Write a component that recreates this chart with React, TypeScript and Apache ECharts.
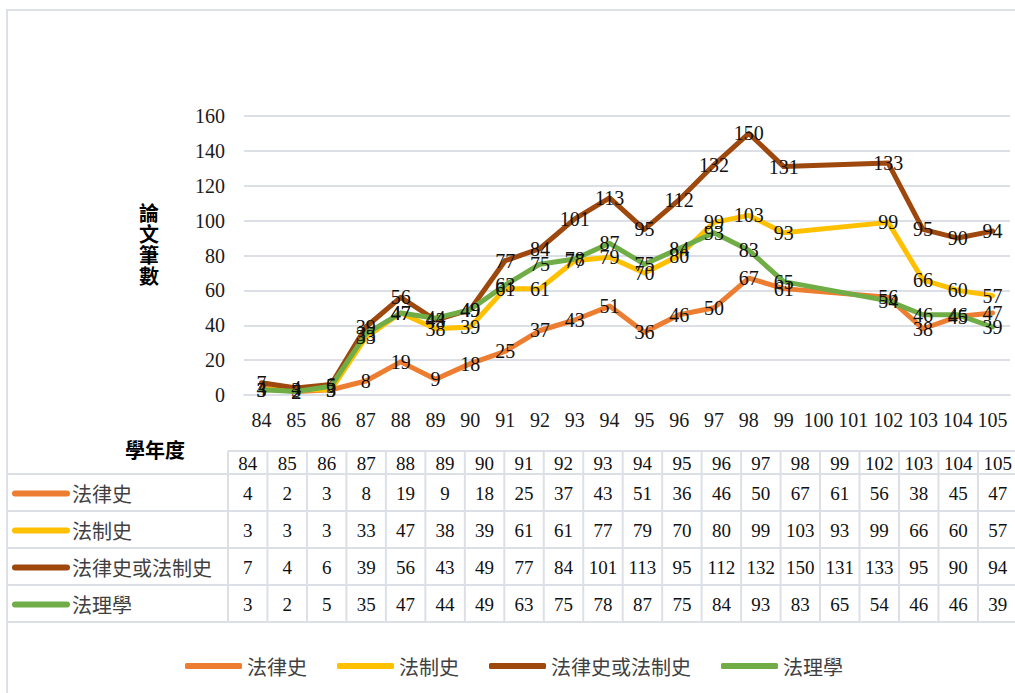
import React, { useEffect, useRef } from "react";
import * as echarts from "echarts";

const categories = ["84","85","86","87","88","89","90","91","92","93","94","95","96","97","98","99","100","101","102","103","104","105"];
const tableYears = ["84","85","86","87","88","89","90","91","92","93","94","95","96","97","98","99","102","103","104","105"];
const seriesNames = ["法律史", "法制史", "法律史或法制史", "法理學"];
const legalHistory = [4,2,3,8,19,9,18,25,37,43,51,36,46,50,67,61,56,38,45,47];
const legalSystemHistory = [3,3,3,33,47,38,39,61,61,77,79,70,80,99,103,93,99,66,60,57];
const eitherHistory = [7,4,6,39,56,43,49,77,84,101,113,95,112,132,150,131,133,95,90,94];
const jurisprudence = [3,2,5,35,47,44,49,63,75,78,87,75,84,93,83,65,54,46,46,39];
const yTicks = { min: 0, max: 160, interval: 20 };
const yAxisTitle = "論文筆數";
const xAxisTitle = "學年度";

const colors = ["#ED7D31", "#FFC000", "#9E480E", "#70AD47"];
const serif = "Liberation Serif";
const cjk = "Noto Sans CJK TC";
const gridColor = "#DCE0E6";

export default function App() {
  const ref = useRef<HTMLDivElement>(null);
  useEffect(() => {
    if (!ref.current) return;
    const chart = echarts.init(ref.current, null, { renderer: "svg" });
    const allValues = [legalHistory, legalSystemHistory, eitherHistory, jurisprudence];

    const toAxis = (vals: number[]) =>
      categories.map((c) => {
        const i = tableYears.indexOf(c);
        return i >= 0 ? vals[i] : null;
      });

    const tableLeft = 228;
    const colW = 39.47;
    const headTop = 451;
    const rowTops = [474, 511, 548, 585, 622];
    const tableRight = 1030;
    const graphics: any[] = [];
    graphics.push({
      type: "rect",
      shape: { x: 7, y: 10, width: 1030, height: 700 },
      style: { fill: "none", stroke: "#DDE1E7", lineWidth: 2 },
      silent: true,
    });
    graphics.push({
      type: "line",
      shape: { x1: tableLeft, y1: headTop, x2: tableRight, y2: headTop },
      style: { stroke: gridColor, lineWidth: 2 },
    });
    rowTops.forEach((y) => {
      graphics.push({
        type: "line",
        shape: { x1: 7, y1: y, x2: tableRight, y2: y },
        style: { stroke: gridColor, lineWidth: 2 },
      });
    });
    for (let i = 0; i <= tableYears.length; i++) {
      const x = tableLeft + i * colW;
      graphics.push({
        type: "line",
        shape: { x1: x, y1: headTop, x2: x, y2: rowTops[rowTops.length - 1] },
        style: { stroke: gridColor, lineWidth: 2 },
      });
    }
    tableYears.forEach((yr, i) => {
      graphics.push({
        type: "text",
        x: tableLeft + (i + 0.5) * colW,
        y: 463,
        style: { text: yr, fontFamily: serif, fontSize: 19, fill: "#111", align: "center", verticalAlign: "middle" },
      });
    });
    allValues.forEach((vals, r) => {
      const cy = (rowTops[r] + rowTops[r + 1]) / 2 + 1;
      graphics.push({
        type: "line",
        shape: { x1: 15, y1: cy, x2: 67, y2: cy },
        style: { stroke: colors[r], lineWidth: 6, lineCap: "round" },
      });
      graphics.push({
        type: "text",
        x: 72,
        y: cy,
        style: { text: seriesNames[r], fontFamily: cjk, fontSize: 20, fill: "#404040", align: "left", verticalAlign: "middle" },
      });
      vals.forEach((v, i) => {
        graphics.push({
          type: "text",
          x: tableLeft + (i + 0.5) * colW,
          y: cy,
          style: { text: String(v), fontFamily: serif, fontSize: 19, fill: "#111", align: "center", verticalAlign: "middle" },
        });
      });
    });
    graphics.push({
      type: "text",
      x: 149,
      y: 244,
      style: {
        text: yAxisTitle.split("").join("\n"),
        fontFamily: cjk,
        fontSize: 20,
        fontWeight: "bold",
        lineHeight: 21,
        fill: "#000",
        align: "center",
        verticalAlign: "middle",
      },
    });
    graphics.push({
      type: "text",
      x: 155,
      y: 449,
      style: { text: xAxisTitle, fontFamily: cjk, fontSize: 20, fontWeight: "bold", fill: "#000", align: "center", verticalAlign: "middle" },
    });

    chart.setOption({
      animation: false,
      color: colors,
      grid: { left: 244, right: 5, top: 116, bottom: 298, containLabel: false },
      legend: {
        left: 180,
        top: 651,
        icon: "roundRect",
        itemWidth: 57,
        itemHeight: 6,
        itemGap: 30,
        textStyle: { fontFamily: cjk, fontSize: 20, color: "#404040" },
        data: seriesNames,
      },
      xAxis: {
        type: "category",
        data: categories,
        boundaryGap: true,
        axisLine: { show: true, lineStyle: { color: gridColor, width: 2 } },
        axisTick: { show: false },
        axisLabel: { fontFamily: serif, fontSize: 20, color: "#1a1a1a", margin: 15, interval: 0 },
      },
      yAxis: {
        type: "value",
        min: yTicks.min,
        max: yTicks.max,
        interval: yTicks.interval,
        axisLine: { show: false },
        axisTick: { show: false },
        splitLine: { lineStyle: { color: gridColor, width: 2 } },
        axisLabel: { fontFamily: serif, fontSize: 20, color: "#1a1a1a", margin: 19 },
      },
      series: allValues.map((vals, i) => ({
        name: seriesNames[i],
        type: "line",
        data: toAxis(vals),
        connectNulls: true,
        symbol: "circle",
        symbolSize: 1,
        showSymbol: true,
        lineStyle: { width: 5, color: colors[i], cap: "round", join: "round" },
        itemStyle: { color: colors[i] },
        label: {
          show: true,
          position: "inside",
          fontFamily: serif,
          fontSize: 20,
          color: "#111",
        },
      })),
      graphic: graphics,
    });
    return () => chart.dispose();
  }, []);
  return <div ref={ref} style={{ position: "fixed", left: 0, top: 0, width: 1015, height: 693, background: "#fff" }} />;
}
